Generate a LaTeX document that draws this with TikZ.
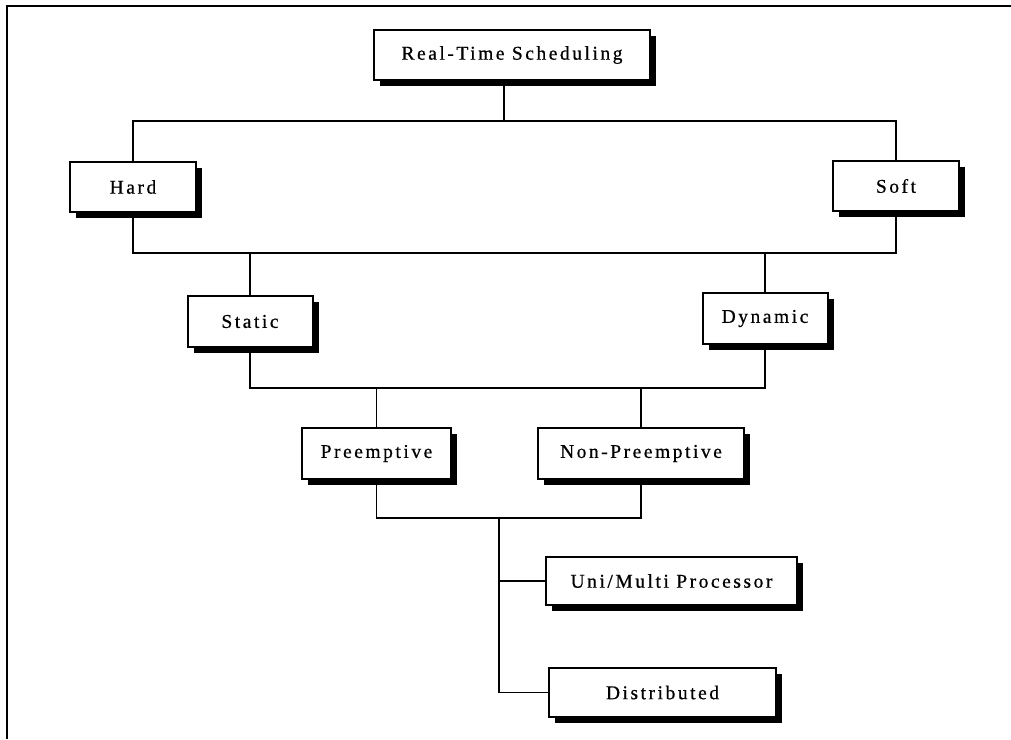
\documentclass[tikz,border=0pt]{standalone}
\usepackage{fontspec}
\setmainfont{Liberation Serif}[LetterSpace=13,FakeBold=0.6]
\usetikzlibrary{shadows}
\begin{document}
\begin{tikzpicture}[x=1pt,y=-1pt,
  tbox/.style={draw=black,line width=2pt,fill=white,inner sep=0pt,
    font=\fontsize{19.5}{22}\selectfont,
    drop shadow={shadow xshift=6pt,shadow yshift=-6pt,fill=black,opacity=1}},
  conn/.style={line width=1.8pt},
  frame/.style={line width=2.4pt}]
\useasboundingbox (0,0) rectangle (1011,739);
\draw[frame] (7,739) -- (7,6) -- (1011,6);
\node[tbox,minimum width=276pt,minimum height=50pt] (rts) at (512,55) {Real-Time Scheduling};
\node[tbox,minimum width=126pt,minimum height=50pt] (hard) at (133,187) {Hard};
\node[tbox,minimum width=126pt,minimum height=50pt] (soft) at (896,186) {Soft};
\node[tbox,minimum width=125pt,minimum height=51pt] (static) at (250,321.5) {Static};
\node[tbox,minimum width=125pt,minimum height=51pt] (dynamic) at (765,318.5) {Dynamic};
\node[tbox,minimum width=149pt,minimum height=51pt] (pre) at (376.5,453.5) {Preemptive};
\node[tbox,minimum width=206pt,minimum height=51pt] (nonpre) at (641,453.5) {Non-Preemptive};
\node[tbox,minimum width=251pt,minimum height=48pt] (uni) at (671.5,581) {Uni/Multi Processor};
\node[tbox,minimum width=227pt,minimum height=49pt] (dist) at (662.5,692.5) {Distributed};
\coordinate (j1) at (504,121);
\coordinate (j2) at (0,253);
\coordinate (j3) at (0,388);
\coordinate (j4) at (499,518);
\draw[conn] (rts.south -| j1) -- (j1);
\draw[conn] (hard.north) -- (hard.north |- j1) -- (soft.north |- j1) -- (soft.north);
\draw[conn] (hard.south) -- (hard.south |- j2) -- (soft.south |- j2) -- (soft.south);
\draw[conn] (static.north) -- (static.north |- j2);
\draw[conn] (dynamic.north) -- (dynamic.north |- j2);
\draw[conn] (static.south) -- (static.south |- j3) -- (dynamic.south |- j3) -- (dynamic.south);
\draw[conn] (pre.north) -- (pre.north |- j3);
\draw[conn] (nonpre.north) -- (nonpre.north |- j3);
\draw[conn] (pre.south) -- (pre.south |- j4) -- (nonpre.south |- j4) -- (nonpre.south);
\draw[conn] (j4) -- (j4 |- dist.west) -- (dist.west);
\draw[conn] (j4 |- uni.west) -- (uni.west);
\end{tikzpicture}
\end{document}
